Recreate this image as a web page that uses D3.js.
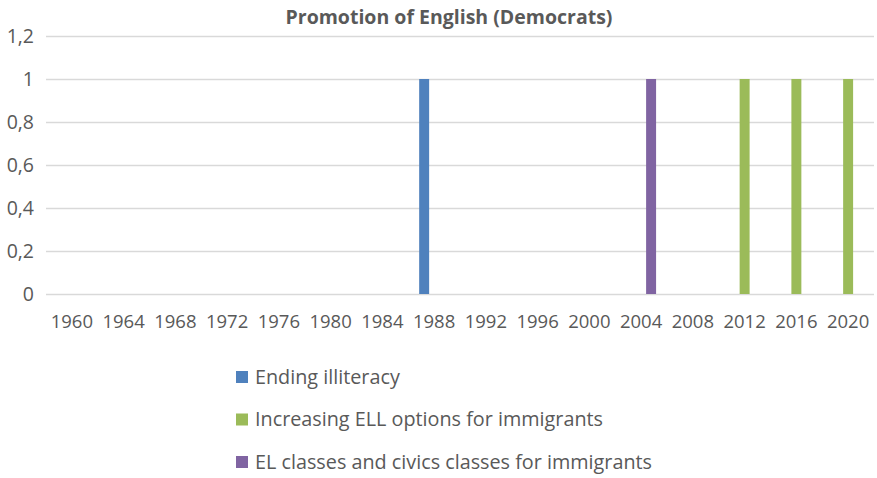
<!DOCTYPE html>
<html>
<head>
<meta charset="utf-8">
<script src="https://cdn.jsdelivr.net/npm/d3@7"></script>
<style>
	body { margin: 0; background: #fff; }
	text { font-family: "Open Sans", "Liberation Sans", sans-serif; fill: #595959; }
</style>
</head>
<body>
<div id="chart"></div>
<script>
"use strict";

var years = ["1960", "1964", "1968", "1972", "1976", "1980", "1984", "1988",
	"1992", "1996", "2000", "2004", "2008", "2012", "2016", "2020"];
var seriesNames = ["Ending illiteracy", "Increasing ELL options for immigrants",
	"EL classes and civics classes for immigrants"];
var endingIlliteracy  = [0, 0, 0, 0, 0, 0, 0, 1, 0, 0, 0, 0, 0, 0, 0, 0];
var increasingEll     = [0, 0, 0, 0, 0, 0, 0, 0, 0, 0, 0, 0, 0, 1, 1, 1];
var elCivicsClasses   = [0, 0, 0, 0, 0, 0, 0, 0, 0, 0, 0, 1, 0, 0, 0, 0];
var yTicks = [0, 0.2, 0.4, 0.6, 0.8, 1, 1.2];
var colors = ["#4f81bd", "#9bbb59", "#8064a2"];

var seriesValues = [endingIlliteracy, increasingEll, elCivicsClasses];

//
// Setup Variables
//
var canvasWidth = 877, canvasHeight = 478;
var margin = { top: 36, right: 3, bottom: 184, left: 46 };
var width = canvasWidth - margin.left - margin.right;
var height = canvasHeight - margin.top - margin.bottom;

var x = d3.scaleBand().domain(years).range([0, width]).padding(0);
var barW = x.bandwidth() / (3 + 2.19);
var x1 = d3.scaleBand().domain(d3.range(3))
	.range([x.bandwidth() / 2 - 1.5 * barW, x.bandwidth() / 2 + 1.5 * barW]);
var y = d3.scaleLinear().domain([0, 1.2]).range([height, 0]);

var locale = d3.formatLocale({ decimal: ",", thousands: ".", grouping: [3], currency: ["", ""] });
var fmt = locale.format("~g");

//
// Draw Canvas
//
var svg = d3.select("#chart")
	.append("svg")
		.attr("width", canvasWidth)
		.attr("height", canvasHeight)
	.append("g")
		.attr("transform", "translate(" + margin.left + "," + margin.top + ")");

// title
svg.append("text")
	.attr("x", width / 2 - 11)
	.attr("y", -12)
	.attr("text-anchor", "middle")
	.style("font-size", "19.5px")
	.style("font-weight", "bold")
	.text("Promotion of English (Democrats)");

//
// Gridlines + Y axis labels
//
var yAxis = d3.axisLeft(y).tickValues(yTicks).tickFormat(fmt).tickSize(-width).tickPadding(12);
var yg = svg.append("g").attr("id", "y_axis").call(yAxis);
yg.select(".domain").remove();
yg.selectAll("line").attr("stroke", "#d9d9d9").attr("stroke-width", 1.5);
yg.selectAll("text").style("font-size", "19.5px").style("fill", "#595959");

//
// X axis labels
//
var xAxis = d3.axisBottom(x).tickSize(0).tickPadding(21);
var xg = svg.append("g").attr("id", "x_axis")
	.attr("transform", "translate(0," + height + ")")
	.call(xAxis);
xg.select(".domain").remove();
xg.selectAll("text").style("font-size", "18.5px").style("fill", "#595959");

//
// Draw Bars
//
var groups = svg.selectAll(".series")
	.data(seriesValues)
	.enter().append("g")
		.attr("class", "series")
		.attr("fill", function(d, i) { return colors[i]; });

groups.each(function(vals, si) {
	d3.select(this).selectAll("rect")
		.data(vals)
		.enter().append("rect")
			.attr("x", function(d, i) { return x(years[i]) + x1(si); })
			.attr("width", x1.bandwidth())
			.attr("y", function(d) { return y(d); })
			.attr("height", function(d) { return height - y(d); });
});

//
// Legend
//
var legend = svg.append("g")
	.attr("transform", "translate(" + (236 - margin.left) + "," + (377 - margin.top) + ")");
var item = legend.selectAll(".item")
	.data(seriesNames)
	.enter().append("g")
		.attr("class", "item")
		.attr("transform", function(d, i) { return "translate(0," + (i * 42.5) + ")"; });
item.append("rect")
	.attr("x", 0).attr("y", -6)
	.attr("width", 12).attr("height", 12)
	.attr("fill", function(d, i) { return colors[i]; });
item.append("text")
	.attr("x", 19)
	.attr("dy", "0.35em")
	.style("font-size", "19.8px")
	.text(function(d) { return d; });
</script>
</body>
</html>
